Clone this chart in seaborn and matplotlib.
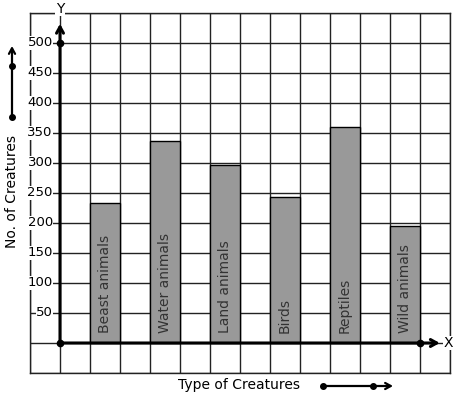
import numpy as np
import matplotlib
matplotlib.use('Agg')
import matplotlib.pyplot as plt
import seaborn as sns

# data
creatures = ['Beast animals', 'Water animals', 'Land animals', 'Birds', 'Reptiles', 'Wild animals']
counts = [233, 336, 297, 243, 360, 195]
y_labels = [50, 100, 150, 200, 250, 300, 350, 400, 450, 500]

sns.set_style('white')
plt.rcParams['font.family'] = ['DejaVu Sans']
plt.rcParams['text.color'] = 'black'

W, H = 457, 399
fig = plt.figure(figsize=(W / 100, H / 100), dpi=100)
ax = fig.add_axes([30 / W, 26 / H, 420 / W, 360 / H])

sns.barplot(x=creatures, y=counts, color='#999999', saturation=1,
            edgecolor='black', linewidth=1, width=0.5, ax=ax, zorder=3)

# grid paper, one cell = half a category step / 50 units
ax.set_xlim(-1.25, 5.75)
ax.set_ylim(-50, 550)
ax.set_xticks(np.arange(-1.25, 5.76, 0.5))
ax.set_yticks(np.arange(-50, 551, 50))
ax.tick_params(length=0, labelbottom=False, labelleft=False)
ax.set_axisbelow(True)
ax.grid(True, color='#222222', lw=1)
for s in ax.spines.values():
    s.set_color('#222222')
    s.set_linewidth(1)
ax.set_xlabel('')
ax.set_ylabel('')

# names inside the bars
for i, name in enumerate(creatures):
    ax.text(i, 16, name, rotation=90, ha='center', va='bottom',
            fontsize=10, color='#333333', zorder=4)

# y tick labels
for v in y_labels:
    ax.text(-0.87, v, str(v), ha='right', va='center', fontsize=9.5,
            bbox=dict(facecolor='white', edgecolor='none', pad=0.3), zorder=4)

# axes with arrows
arrow = dict(arrowstyle='->,head_length=0.45,head_width=0.25', lw=2.2,
             color='black', shrinkA=0, shrinkB=0)
ax.annotate('', xy=(-0.75, 532), xytext=(-0.75, 0), arrowprops=arrow,
            annotation_clip=False, zorder=5)
ax.annotate('', xy=(5.58, 0), xytext=(-0.75, 0), arrowprops=arrow,
            annotation_clip=False, zorder=5)
ax.plot([-0.75, -0.75, 5.25], [0, 500, 0], 'o', ms=4.5, color='black',
        zorder=6, clip_on=False)
ax.text(5.72, 0, 'X', ha='center', va='center', fontsize=10, zorder=6,
        bbox=dict(facecolor='white', edgecolor='none', pad=0.3))
ax.text(-0.75, 557, 'Y', ha='center', va='center', fontsize=10, zorder=6,
        bbox=dict(facecolor='white', edgecolor='none', pad=0.3))

# overlay in pixel units for the titles and their arrows
ov = fig.add_axes([0, 0, 1, 1])
ov.set_xlim(0, W)
ov.set_ylim(H, 0)
ov.axis('off')
ov.patch.set_alpha(0)

ov.text(239.5, 385, 'Type of Creatures', ha='center', va='center', fontsize=10)
ov.text(12, 192, 'No. of Creatures', ha='center', va='center', rotation=90, fontsize=10)

small = dict(arrowstyle='->,head_length=0.4,head_width=0.22', lw=1.6,
             color='black', shrinkA=0, shrinkB=0)
ov.annotate('', xy=(393, 386), xytext=(323, 386), arrowprops=small)
ov.plot([323, 373], [386, 386], 'o', ms=4, color='black')
ov.annotate('', xy=(12, 46), xytext=(12, 117), arrowprops=small)
ov.plot([12, 12], [117, 66], 'o', ms=4, color='black')

fig.savefig('out.png', dpi=100)
